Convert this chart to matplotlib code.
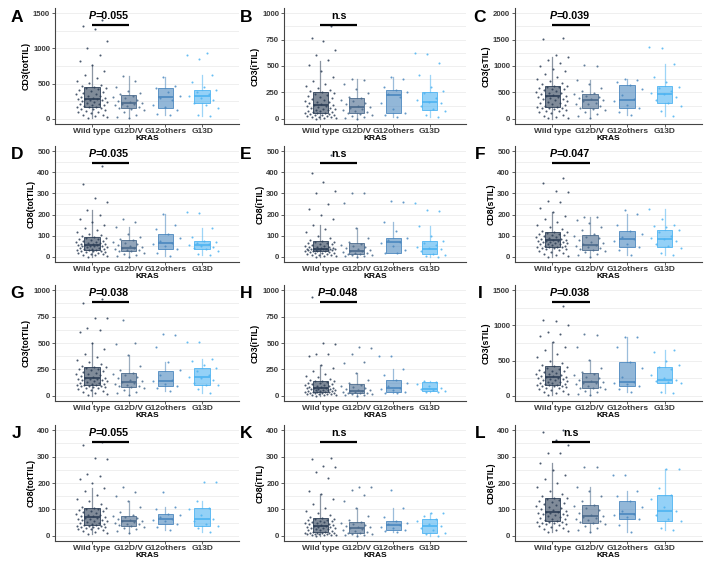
import matplotlib
matplotlib.use("Agg")
import matplotlib.pyplot as plt
from matplotlib.ticker import MultipleLocator
from matplotlib.colors import to_rgba
import numpy as np

plt.rcParams['font.family'] = ['Liberation Sans', 'DejaVu Sans']

groups = ["Wild type", "G12D/V", "G12others", "G13D"]
colors = ["#2c3e56", "#4a6a8c", "#4a87bf", "#4db3f2"]

# box statistics per group: [whislo, q1, median, q3, whishi]
stats_A = [[10,167,286,452,771],[10,152,224,343,605],[48,152,305,438,590],[33,224,329,414,624]]
wt_A = [10,20,35,50,60,75,90,100,115,125,135,145,150,160,165,170,180,190,200,210,215,225,235,245,255,260,270,275,280,285,290,300,310,320,330,345,355,370,385,395,410,420,430,440,450,465,480,510,540,580,620,680,760,820,900,1000,1100,1270,1320,1400]
dv_A = [10,30,60,90,120,140,150,160,175,190,205,215,225,240,255,270,290,310,330,345,370,400,450,530,605]
ot_A = [48,70,120,160,200,260,300,330,380,430,470,590]
d13_A = [33,60,150,200,230,260,300,330,350,380,410,450,520,624,850,900,930]

stats_B = [[0,54,130,251,546],[0,51,108,200,381],[16,57,225,276,397],[13,86,162,257,410]]
wt_B = [2,5,8,12,16,20,24,28,32,36,40,44,48,50,53,56,60,65,70,75,80,85,90,95,100,105,110,118,124,128,132,140,148,155,162,170,178,185,195,205,215,225,232,240,250,260,275,290,310,330,360,400,450,510,560,600,650,740,770,880]
dv_B = [0,10,20,30,40,48,55,65,75,85,95,105,110,120,135,150,165,180,195,210,240,280,330,370,381]
ot_B = [16,40,57,90,150,210,230,250,270,300,380,397]
d13_B = [13,40,70,90,120,150,160,175,200,240,260,300,410,530,610,620]

stats_C = [[0,222,430,627,1171],[13,196,361,468,741],[63,196,361,639,753],[57,304,475,614,1044]]
wt_C = [5,20,40,60,80,100,120,140,155,170,185,195,205,212,220,230,245,260,275,290,305,320,335,350,365,380,395,410,420,428,435,450,465,480,495,510,525,540,555,570,585,600,610,618,625,650,680,720,760,800,850,900,950,1000,1060,1110,1170,1200,1510,1530]
dv_C = [13,50,90,130,170,190,210,240,270,280,300,330,355,365,390,410,440,460,480,520,580,650,741,1000,1010]
ot_C = [63,120,200,260,330,370,450,560,640,700,740,753]
d13_C = [57,150,250,300,350,420,460,490,530,580,610,700,800,1044,1350,1360]

stats_D = [[0,32,57,95,221],[0,27,41,79,139],[3,38,65,110,202],[6,36,55,74,134]]
wt_D = [0,3,6,9,12,15,17,19,21,23,25,27,29,30,31,33,35,37,39,41,43,45,47,49,51,52,53,54,55,56,58,60,62,64,66,68,70,73,76,79,82,85,88,91,94,98,103,110,118,125,135,150,165,180,200,220,260,280,345,430]
dv_D = [0,5,10,15,20,25,28,31,34,37,40,42,45,50,55,60,65,72,78,85,95,110,139,165,180]
ot_D = [3,20,38,50,60,65,75,90,110,130,150,202]
d13_D = [6,15,25,36,42,48,53,56,60,65,70,75,95,134,205,210]

stats_E = [[0,27,39,74,150],[0,13,28,63,134],[16,19,68,91,166],[0,13,39,76,145]]
wt_E = [0,2,4,6,8,10,12,14,16,18,20,22,24,25,26,28,29,30,31,32,33,34,35,36,36,37,37,38,38,39,40,42,44,46,48,50,52,55,58,61,64,66,68,70,73,80,90,100,115,130,150,180,200,225,250,300,310,355,395,480]
dv_E = [0,2,4,6,8,11,14,17,20,23,26,28,30,35,40,45,50,55,62,70,90,134,255,300,300]
ot_E = [16,19,30,50,65,70,80,90,120,166,260,265]
d13_E = [0,5,10,15,25,35,40,45,55,65,75,100,145,215,220,255]

stats_F = [[0,47,77,118,213],[0,32,55,101,186],[8,44,84,123,202],[8,46,85,129,224]]
wt_F = [0,5,10,15,20,24,28,32,35,38,40,42,44,45,46,48,50,53,55,58,60,62,64,66,68,70,72,74,75,76,78,80,83,86,89,92,95,98,101,104,107,110,113,115,117,122,130,140,150,165,180,195,213,230,260,265,305,310,350,375]
dv_F = [0,8,15,22,28,31,35,40,45,50,54,58,65,72,80,88,95,100,110,125,140,160,175,186,190]
ot_F = [8,30,44,60,75,84,95,110,123,150,202,220]
d13_F = [8,20,40,50,60,75,85,90,100,115,128,140,145,150,180,224]

stats_G = [[0,98,168,276,502],[10,83,133,216,384],[41,89,143,238,321],[25,102,178,263,352]]
wt_G = [5,15,25,35,45,55,62,70,76,82,86,90,93,95,97,100,105,110,115,120,125,130,135,140,145,150,155,160,163,166,170,178,186,194,202,210,218,226,234,242,250,258,265,270,275,285,300,320,340,370,400,440,500,600,620,640,740,740,880,920]
dv_G = [10,25,40,55,70,80,88,95,105,115,125,132,140,150,165,180,195,205,215,240,280,384,490,500,720]
ot_G = [41,70,90,110,140,150,200,240,321,460,580,590]
d13_G = [25,60,100,100,120,150,170,180,200,230,260,290,330,352,505,510]

stats_H = [[0,35,73,143,295],[0,25,48,108,216],[25,35,73,146,257],[35,41,67,130,137]]
wt_H = [0,3,6,9,12,15,18,21,24,26,28,30,32,33,34,36,38,41,44,47,50,53,56,59,62,65,67,69,71,72,75,80,85,90,95,100,105,110,115,120,125,130,135,140,142,150,160,175,190,210,230,260,295,380,400,400,490,500,940,960]
dv_H = [0,5,10,15,20,24,27,30,35,40,45,48,52,58,65,75,85,95,105,120,150,216,315,320,400,450,460]
ot_H = [25,30,35,50,65,75,90,120,146,200,257,375,380]
d13_H = [35,40,45,55,65,70,90,110,130,137]

stats_I = [[10,152,262,424,762],[10,114,190,319,510],[48,138,190,476,833],[33,186,224,405,652]]
wt_I = [10,25,40,55,70,85,95,105,115,125,132,138,143,147,150,155,162,170,178,186,194,202,210,218,226,234,242,250,256,260,265,275,285,295,305,315,325,335,345,355,370,385,400,412,422,440,470,500,550,600,650,700,762,850,880,900,1000,1060,1080,1280]
dv_I = [10,30,50,70,90,105,115,130,145,160,175,188,195,210,230,250,270,290,310,340,400,510,700,870,880]
ot_I = [48,90,138,170,185,195,260,400,476,700,833,840]
d13_I = [33,60,186,200,215,225,250,300,380,405,440,500,620,652]

stats_J = [[6,39,70,107,180],[10,38,54,75,130],[20,45,65,83,110],[16,38,64,107,130]]
wt_J = [6,10,14,18,21,24,27,29,31,33,34,35,36,37,38,40,42,44,46,48,50,52,54,56,58,60,62,64,66,68,72,74,76,78,80,83,86,89,92,95,98,100,102,104,106,110,120,130,140,155,170,180,200,215,225,235,290,295,345,355]
dv_J = [10,18,25,30,35,38,40,43,46,49,52,54,56,60,64,68,72,75,80,90,110,130,150,165,185]
ot_J = [20,35,45,55,60,65,70,80,83,100,110,165]
d13_J = [16,30,38,45,55,64,80,100,107,130,205,205]

stats_K = [[0,13,38,69,160],[0,10,31,53,107],[13,20,40,57,107],[0,10,38,63,88]]
wt_K = [0,1,2,3,4,5,6,7,8,9,10,10,11,12,12,14,16,18,20,22,24,26,28,30,31,32,34,35,36,37,39,41,43,45,47,49,51,53,55,57,59,61,63,65,68,72,78,85,95,105,120,140,160,170,220,240,260,265,290,295]
dv_K = [0,2,4,6,8,10,12,15,18,22,26,30,32,35,38,42,46,50,53,60,75,107,130,155,175,185,185]
ot_K = [13,18,20,28,35,40,45,50,57,70,107,175]
d13_K = [0,5,10,20,30,38,45,55,63,75,85,88]

stats_L = [[13,54,91,145,277],[13,50,73,117,186],[16,63,83,130,170],[23,57,92,155,255]]
wt_L = [13,18,22,26,30,34,38,41,44,46,48,50,51,52,53,56,59,62,65,68,71,74,77,80,82,84,86,88,89,90,93,96,100,104,108,112,116,120,124,128,132,136,140,142,144,150,160,170,185,200,215,230,250,277,315,315,345,365,395,400]
dv_L = [13,20,30,38,45,48,52,56,60,64,68,72,75,80,88,96,105,112,116,130,150,170,186,260,260]
ot_L = [16,40,63,70,78,83,95,110,130,150,170,230,230]
d13_L = [23,30,57,65,80,92,110,140,155,180,255,255]

letters = list("ABCDEFGHIJKL")
ylabels = ["CD3(totTIL)", "CD3(iTIL)", "CD3(sTIL)",
           "CD8(totTIL)", "CD8(iTIL)", "CD8(sTIL)",
           "CD3(totTIL)", "CD3(iTIL)", "CD3(sTIL)",
           "CD8(totTIL)", "CD8(iTIL)", "CD8(sTIL)"]
ymax = [1500, 1000, 2000, 500, 500, 500, 1000, 1000, 1500, 400, 400, 400]
ystep = [500, 250, 500, 100, 100, 100, 250, 250, 500, 100, 100, 100]
pvals = ["0.055", "n.s", "0.039", "0.035", "n.s", "0.047",
         "0.038", "0.048", "0.038", "0.055", "n.s", "n.s"]
all_stats = [stats_A, stats_B, stats_C, stats_D, stats_E, stats_F,
             stats_G, stats_H, stats_I, stats_J, stats_K, stats_L]
all_points = [[wt_A, dv_A, ot_A, d13_A], [wt_B, dv_B, ot_B, d13_B],
              [wt_C, dv_C, ot_C, d13_C], [wt_D, dv_D, ot_D, d13_D],
              [wt_E, dv_E, ot_E, d13_E], [wt_F, dv_F, ot_F, d13_F],
              [wt_G, dv_G, ot_G, d13_G], [wt_H, dv_H, ot_H, d13_H],
              [wt_I, dv_I, ot_I, d13_I], [wt_J, dv_J, ot_J, d13_J],
              [wt_K, dv_K, ot_K, d13_K], [wt_L, dv_L, ot_L, d13_L]]

W, H = 708, 566
fig = plt.figure(figsize=(W / 100, H / 100), dpi=100)
fig.patch.set_facecolor("white")

col_left = [55, 284, 515]
col_w = [184, 182, 187]
row_top = [8, 146, 285, 425]
ax_h = 116
letter_x = [17, 246, 480]

tick_col = "#3a3a3a"
positions = [1, 2, 3, 4]

for i in range(12):
    r, c = divmod(i, 3)
    ax = fig.add_axes([col_left[c] / W, 1 - (row_top[r] + ax_h) / H,
                       col_w[c] / W, ax_h / H])
    M = ymax[i]
    ax.set_xlim(0, 5)
    ax.set_ylim(-0.05 * M, 1.05 * M)
    ax.yaxis.set_major_locator(MultipleLocator(ystep[i]))
    ax.yaxis.set_minor_locator(MultipleLocator(ystep[i] / 2))
    ax.grid(True, which="both", axis="y", color="#ececec", lw=0.6, zorder=0)
    ax.set_axisbelow(True)
    for s in ["top", "right"]:
        ax.spines[s].set_visible(False)
    for s in ["left", "bottom"]:
        ax.spines[s].set_color("#444444")
        ax.spines[s].set_linewidth(0.8)

    stats = []
    for g, st in enumerate(all_stats[i]):
        stats.append(dict(whislo=st[0], q1=st[1], med=st[2], q3=st[3],
                          whishi=st[4], fliers=[], label=groups[g]))
    bp = ax.bxp(stats, positions=positions, widths=0.42, patch_artist=True,
                showfliers=False, showcaps=False, manage_ticks=False)
    for g in range(4):
        col = colors[g]
        bp["boxes"][g].set_facecolor(to_rgba(col, 0.6))
        bp["boxes"][g].set_edgecolor(to_rgba(col, 0.85))
        bp["boxes"][g].set_linewidth(0.7)
        bp["boxes"][g].set_zorder(2)
        bp["medians"][g].set_color(col)
        bp["medians"][g].set_linewidth(1.2)
        bp["medians"][g].set_zorder(4)
        for w in bp["whiskers"][2 * g:2 * g + 2]:
            w.set_color(to_rgba(col, 0.55))
            w.set_linewidth(0.9)
            w.set_zorder(2)

    for g, vals in enumerate(all_points[i]):
        vals = np.sort(np.asarray(vals, dtype=float))
        n = len(vals)
        offs = ((np.arange(n) * 0.6180339887 + 0.37 + 0.13 * g) % 1.0 - 0.5) * 0.86
        ax.scatter(positions[g] + offs, vals, s=2.2, color=colors[g],
                   alpha=0.85, linewidths=0, zorder=3)

    # significance bar
    ybar = 0.885 * M
    ax.plot([1, 2], [ybar, ybar], color="black", lw=1.6, solid_capstyle="butt", zorder=5)
    ytxt = 0.97 * M
    if pvals[i] == "n.s":
        ax.text(1.5, ytxt, "n.s", ha="center", va="center", fontsize=7.7,
                fontweight="bold", zorder=5)
    else:
        t1 = ax.text(0.92, ytxt, "P", ha="left", va="center", fontsize=7.7,
                     fontweight="bold", style="italic", zorder=5)
        ax.annotate("=" + pvals[i], xy=(1, 0), xycoords=t1, ha="left",
                    va="bottom", fontsize=7.7, fontweight="bold", zorder=5)

    ax.set_xticks(positions)
    ax.set_xticklabels(groups, fontsize=6.0, fontweight="bold", color=tick_col)
    ax.tick_params(axis="y", labelsize=5.6, labelcolor=tick_col, length=2,
                   width=0.6, color="#444444", pad=1.5)
    ax.tick_params(axis="y", which="minor", length=0)
    ax.tick_params(axis="x", length=2, width=0.6, color="#444444", pad=1)
    for lab in ax.get_yticklabels():
        lab.set_fontweight("bold")
    ax.set_xlabel("KRAS", fontsize=6.0, fontweight="bold", labelpad=0)
    ax.set_ylabel(ylabels[i], fontsize=6.3, fontweight="bold", labelpad=1.5)

    fig.text(letter_x[c] / W, 1 - (row_top[r] + 9) / H, letters[i],
             fontsize=12.5, fontweight="bold", ha="center", va="center")

fig.savefig("out.png", dpi=100, facecolor="white")
